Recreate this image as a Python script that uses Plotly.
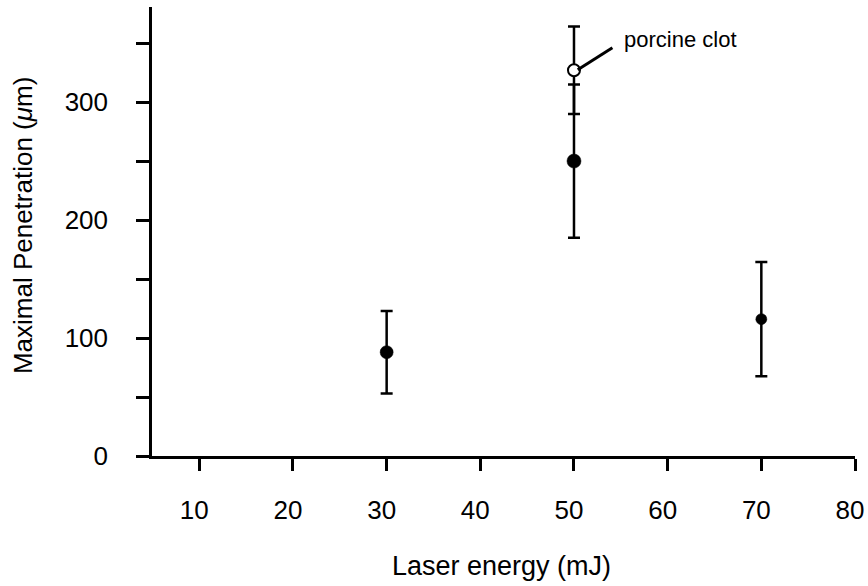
import plotly.graph_objects as go

# Data
energy = [30, 50, 70]
penetration = [88, 250, 116]
pen_err = [35, 65, 48.5]
marker_sizes = [13, 14, 11]

clot_energy = [50]
clot_penetration = [327]
clot_err = [37]

x_ticks = [10, 20, 30, 40, 50, 60, 70, 80]
y_tickvals = [0, 50, 100, 150, 200, 250, 300, 350]
y_ticktext = ["0", "", "100", "", "200", "", "300", ""]

label_text = "porcine clot"
label_pos = (55.1, 353)
leader_x = [50.4, 54.1]
leader_y = [327.4, 346]

FONT = "Liberation Sans, Arial, Helvetica, sans-serif"

fig = go.Figure()

fig.add_trace(go.Scatter(
    x=energy, y=penetration, mode="markers",
    marker=dict(color="black", size=marker_sizes, opacity=1, line=dict(color="black", width=0.5)),
    error_y=dict(type="data", array=pen_err, color="black", thickness=2.5, width=6),
    showlegend=False,
))

fig.add_trace(go.Scatter(
    x=clot_energy, y=clot_penetration, mode="markers",
    marker=dict(color="white", size=12, opacity=1, line=dict(color="black", width=2)),
    error_y=dict(type="data", array=clot_err, color="black", thickness=2.5, width=6),
    showlegend=False,
))

fig.add_shape(type="line", x0=leader_x[0], y0=leader_y[0], x1=leader_x[1], y1=leader_y[1],
              xref="x", yref="y", line=dict(color="black", width=3))

fig.add_annotation(x=label_pos[0], y=label_pos[1], xref="x", yref="y", text=label_text,
                   showarrow=False, xanchor="left", yanchor="middle",
                   font=dict(family=FONT, size=22, color="black"))

fig.add_annotation(x=0.497, y=0, xref="paper", yref="paper", text="Laser energy (mJ)",
                   showarrow=False, xanchor="center", yanchor="middle", yshift=-110,
                   font=dict(family=FONT, size=27, color="black"))

fig.add_annotation(x=0, y=0.512, xref="paper", yref="paper",
                   text="Maximal Penetration (<i>μ</i>m)", textangle=-90,
                   showarrow=False, xanchor="center", yanchor="middle", xshift=-129,
                   font=dict(family=FONT, size=26, color="black"))

fig.update_layout(
    width=868, height=586,
    margin=dict(l=152, r=13, t=7, b=130, autoexpand=False),
    paper_bgcolor="white", plot_bgcolor="white",
    font=dict(family=FONT, size=26, color="black"),
    xaxis=dict(range=[4.95, 80], tickvals=x_ticks, ticks="outside", ticklen=12, tickwidth=2.5,
               tickcolor="black", showline=True, linecolor="black", linewidth=2.5,
               showgrid=False, zeroline=False, ticklabelstandoff=17, ticklabelshift=-5,
               automargin=False, ticklabeloverflow="allow",
               tickfont=dict(family=FONT, size=26, color="black")),
    yaxis=dict(range=[0, 380.6], tickvals=y_tickvals, ticktext=y_ticktext, ticks="outside",
               ticklen=13, tickwidth=2.5, tickcolor="black", showline=True, linecolor="black",
               linewidth=2.5, showgrid=False, zeroline=False, ticklabelstandoff=23, automargin=False,
               ticklabeloverflow="allow",
               tickfont=dict(family=FONT, size=26, color="black")),
)

# remove the default page margin so the figure fills the window exactly
fig.write_html("out.html",
               config={"displayModeBar": False},
               post_script="document.body.style.margin='0';document.body.style.overflow='hidden';")
